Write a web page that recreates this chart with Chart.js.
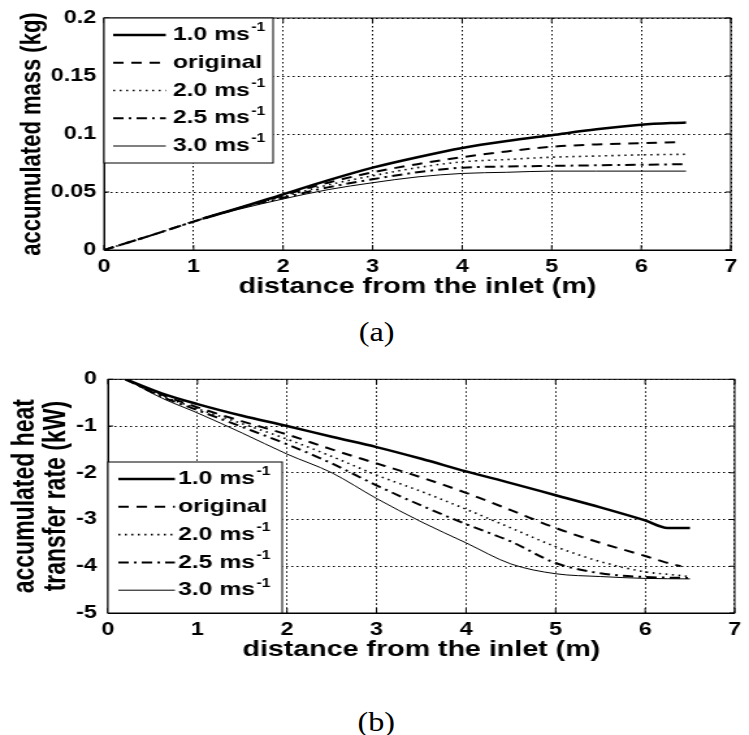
<!DOCTYPE html>
<html>
<head>
<meta charset="utf-8">
<script src="https://cdn.jsdelivr.net/npm/chart.js@4.4.1/dist/chart.umd.min.js"></script>
<style>
  body { margin: 0; background: #fff; width: 749px; height: 735px; position: relative; overflow: hidden; }
  canvas { position: absolute; left: 0; }
  .cap { position: absolute; left: 2px; width: 749px; text-align: center; color: #000;
         font-family: 'Liberation Serif', 'Times New Roman', serif; font-size: 28px; line-height: 30px; }
  .cap span { display: inline-block; transform: scaleX(1.15); }
</style>
</head>
<body>
<canvas id="massChart" width="576" height="310" style="top:0;width:749px;height:310px"></canvas>
<div class="cap" style="top:317px"><span>(a)</span></div>
<canvas id="heatChart" width="576" height="320" style="top:360px;width:749px;height:320px"></canvas>
<div class="cap" style="top:707px"><span>(b)</span></div>
<script>
// legend text (base + superscript)
const seriesBase = ['1.0 ms', 'original', '2.0 ms', '2.5 ms', '3.0 ms'];
const seriesSup = ['-1', '', '-1', '-1', '-1'];

// tick labels
const xTickLabels = ['0', '1', '2', '3', '4', '5', '6', '7'];
const massTickLabels = ['0', '0.05', '0.1', '0.15', '0.2'];
const heatTickLabels = ['-5', '-4', '-3', '-2', '-1', '0'];

// (a) accumulated mass (kg) vs distance (m)
const massX = [0, 0.5, 1, 1.5, 2, 2.5, 3, 3.5, 4, 4.5, 5, 5.5, 6, 6.5];
const massXLate = [1.1, 1.5, 2, 2.5, 3, 3.5, 4, 4.5, 5, 5.5, 6, 6.5];
const massXOrig = [0, 0.5, 1, 1.5, 2, 2.5, 3, 3.5, 4, 4.5, 5, 5.5, 6, 6.4];
const mass10 = [0.027, 0.036, 0.048, 0.060, 0.071, 0.080, 0.088, 0.094, 0.099, 0.104, 0.108, 0.110];
const massOrig = [0, 0.012, 0.0245, 0.036, 0.047, 0.058, 0.067, 0.074, 0.080, 0.085, 0.089, 0.091, 0.092, 0.093];
const mass20 = [0, 0.012, 0.0245, 0.036, 0.046, 0.056, 0.064, 0.071, 0.076, 0.078, 0.080, 0.081, 0.082, 0.0825];
const mass25 = [0, 0.012, 0.0245, 0.036, 0.045, 0.054, 0.061, 0.067, 0.071, 0.072, 0.0725, 0.073, 0.0735, 0.074];
const mass30 = [0.027, 0.035, 0.044, 0.052, 0.058, 0.063, 0.066, 0.067, 0.068, 0.068, 0.068, 0.068];

// (b) accumulated heat transfer rate (kW) vs distance (m)
const heatX = [0.2, 0.6, 1, 1.5, 2, 2.5, 3, 3.5, 4, 4.5, 5, 5.5, 6, 6.5];
const heatX10 = [0.2, 0.6, 1, 1.5, 2, 2.5, 3, 3.5, 4, 4.5, 5, 5.5, 6, 6.25, 6.5];
const heatXOrig = [0.2, 0.6, 1, 1.5, 2, 2.5, 3, 3.5, 4, 4.5, 5, 5.5, 6, 6.2, 6.4];
const heatX20 = [0.2, 0.6, 1, 1.5, 2, 2.5, 3, 3.5, 4, 4.5, 5, 5.5, 6, 6.3, 6.5];
const heat10 = [0, -0.3, -0.53, -0.78, -1.0, -1.23, -1.45, -1.7, -1.97, -2.22, -2.48, -2.74, -3.02, -3.18, -3.18];
const heatOrig = [0, -0.33, -0.6, -0.9, -1.18, -1.5, -1.8, -2.1, -2.43, -2.8, -3.18, -3.5, -3.78, -3.9, -4.0];
const heat20 = [0, -0.35, -0.63, -0.95, -1.28, -1.65, -2.05, -2.4, -2.78, -3.18, -3.58, -3.9, -4.12, -4.18, -4.22];
const heat25 = [0, -0.37, -0.66, -1.02, -1.39, -1.8, -2.27, -2.7, -3.1, -3.47, -3.93, -4.15, -4.23, -4.25];
const heat30 = [0, -0.4, -0.72, -1.15, -1.6, -2.0, -2.55, -3.05, -3.5, -3.95, -4.16, -4.22, -4.26, -4.27];

const FONT = "'Liberation Sans', Arial, Helvetica, sans-serif";
const lineWidths = [2.5, 2, 1.6, 2, 1];
const lineDashes = [[], [8, 6], [1.5, 3.5], [8, 4, 2, 4], []];

function makeDatasets(xs, ys) {
    return ys.map((vals, i) => ({
        label: seriesBase[i] + seriesSup[i],
        data: vals.map((v, j) => ({ x: xs[i][j], y: v })),
        borderColor: '#000',
        borderWidth: lineWidths[i],
        borderDash: lineDashes[i],
        pointRadius: 0,
        fill: false,
        cubicInterpolationMode: 'monotone'
    }));
}

// MATLAB style box, inward ticks and boxed legend
const framePlugin = {
    id: 'frame',
    afterDatasetsDraw(chart, args, opts) {
        const { ctx, chartArea: a, scales } = chart;
        ctx.save();
        ctx.setLineDash([]);
        ctx.strokeStyle = '#000';
        ctx.lineWidth = 1;
        ctx.beginPath();
        scales.x.ticks.forEach(t => {
            const px = scales.x.getPixelForValue(t.value);
            ctx.moveTo(px, a.bottom); ctx.lineTo(px, a.bottom - 5);
            ctx.moveTo(px, a.top); ctx.lineTo(px, a.top + 5);
        });
        scales.y.ticks.forEach(t => {
            const py = scales.y.getPixelForValue(t.value);
            ctx.moveTo(a.left, py); ctx.lineTo(a.left + 4, py);
            ctx.moveTo(a.right, py); ctx.lineTo(a.right - 4, py);
        });
        ctx.stroke();
        ctx.strokeRect(a.left, a.top, a.right - a.left, a.bottom - a.top);

        const L = opts.legend;
        ctx.fillStyle = '#fff';
        ctx.fillRect(L.x, L.y, L.w, L.h);
        ctx.strokeRect(L.x, L.y, L.w, L.h);
        chart.data.datasets.forEach((ds, i) => {
            const y = L.y + L.first + i * L.step;
            ctx.setLineDash(ds.borderDash);
            ctx.lineWidth = ds.borderWidth;
            ctx.beginPath();
            ctx.moveTo(L.x1, y);
            ctx.lineTo(L.x2, y);
            ctx.stroke();
            ctx.setLineDash([]);
            ctx.fillStyle = '#000';
            ctx.textAlign = 'left';
            ctx.textBaseline = 'middle';
            ctx.font = 'bold 19px ' + FONT;
            ctx.fillText(seriesBase[i], L.tx, y);
            if (seriesSup[i]) {
                const w = ctx.measureText(seriesBase[i]).width;
                ctx.font = 'bold 12px ' + FONT;
                ctx.fillText(seriesSup[i], L.tx + w + 1, y - 7);
            }
        });
        ctx.restore();
    }
};

function axisOptions(cfg) {
    return {
        x: {
            type: 'linear', min: 0, max: 7,
            ticks: { stepSize: 1, color: '#000', padding: 6, maxRotation: 0,
                     font: { family: FONT, size: 18, weight: 'bold' },
                     callback: (v, i) => xTickLabels[i] },
            grid: { color: '#000', lineWidth: 1, drawTicks: false },
            border: { display: true, color: '#000', dash: [1.5, 2.5] },
            title: { display: true, text: 'distance from the inlet (m)', color: '#000',
                     font: { family: FONT, size: 22, weight: 'bold' },
                     padding: { top: 0, bottom: cfg.xTitlePad } },
            afterFit: s => { s.height = cfg.xHeight; }
        },
        y: {
            min: cfg.yMin, max: cfg.yMax,
            ticks: { stepSize: cfg.yStep, color: '#000', padding: cfg.yTickPad,
                     font: { family: FONT, size: 18, weight: 'bold' },
                     callback: (v, i) => cfg.yLabels[i] },
            grid: { color: '#000', lineWidth: 1, drawTicks: false },
            border: { display: true, color: '#000', dash: [1.5, 2.5] },
            title: { display: true, text: cfg.yTitle, color: '#000',
                     font: { family: FONT, size: cfg.yTitleSize, weight: 'bold', lineHeight: cfg.yTitleLH },
                     padding: { top: cfg.yTitlePad, bottom: 0 } },
            afterFit: s => { s.width = cfg.yWidth; }
        }
    };
}

new Chart(document.getElementById('massChart'), {
    type: 'line',
    data: {
        datasets: makeDatasets(
            [massXLate, massXOrig, massX, massX, massXLate],
            [mass10, massOrig, mass20, mass25, mass30])
    },
    options: {
        responsive: false,
        animation: false,
        layout: { padding: { top: 18, right: 14, left: 0, bottom: 0 } },
        plugins: {
            legend: { display: false },
            tooltip: { enabled: false },
            frame: { legend: { x: 80, y: 18, w: 130, h: 145, first: 17, step: 27.75, x1: 87, x2: 127.5, tx: 133 } }
        },
        scales: axisOptions({
            xHeight: 60, xTitlePad: 10,
            yMin: 0, yMax: 0.2, yStep: 0.05, yLabels: massTickLabels, yTickPad: 6,
            yTitle: 'accumulated mass (kg)', yTitleSize: 22, yTitleLH: 1.2, yTitlePad: 12, yWidth: 80
        })
    },
    plugins: [framePlugin]
});

new Chart(document.getElementById('heatChart'), {
    type: 'line',
    data: {
        datasets: makeDatasets(
            [heatX10, heatXOrig, heatX20, heatX, heatX],
            [heat10, heatOrig, heat20, heat25, heat30])
    },
    options: {
        responsive: false,
        animation: false,
        layout: { padding: { top: 16, right: 5, left: 0, bottom: 0 } },
        plugins: {
            legend: { display: false },
            tooltip: { enabled: false },
            frame: { legend: { x: 83, y: 102, w: 134, h: 151, first: 17, step: 27.8, x1: 91, x2: 134.5, tx: 137 } }
        },
        scales: axisOptions({
            xHeight: 67, xTitlePad: 17,
            yMin: -5, yMax: 0, yStep: 1, yLabels: heatTickLabels, yTickPad: 8.5,
            yTitle: ['accumulated heat', 'transfer rate (kW)'], yTitleSize: 23, yTitleLH: 1.07, yTitlePad: 7, yWidth: 83
        })
    },
    plugins: [framePlugin]
});
</script>
</body>
</html>
